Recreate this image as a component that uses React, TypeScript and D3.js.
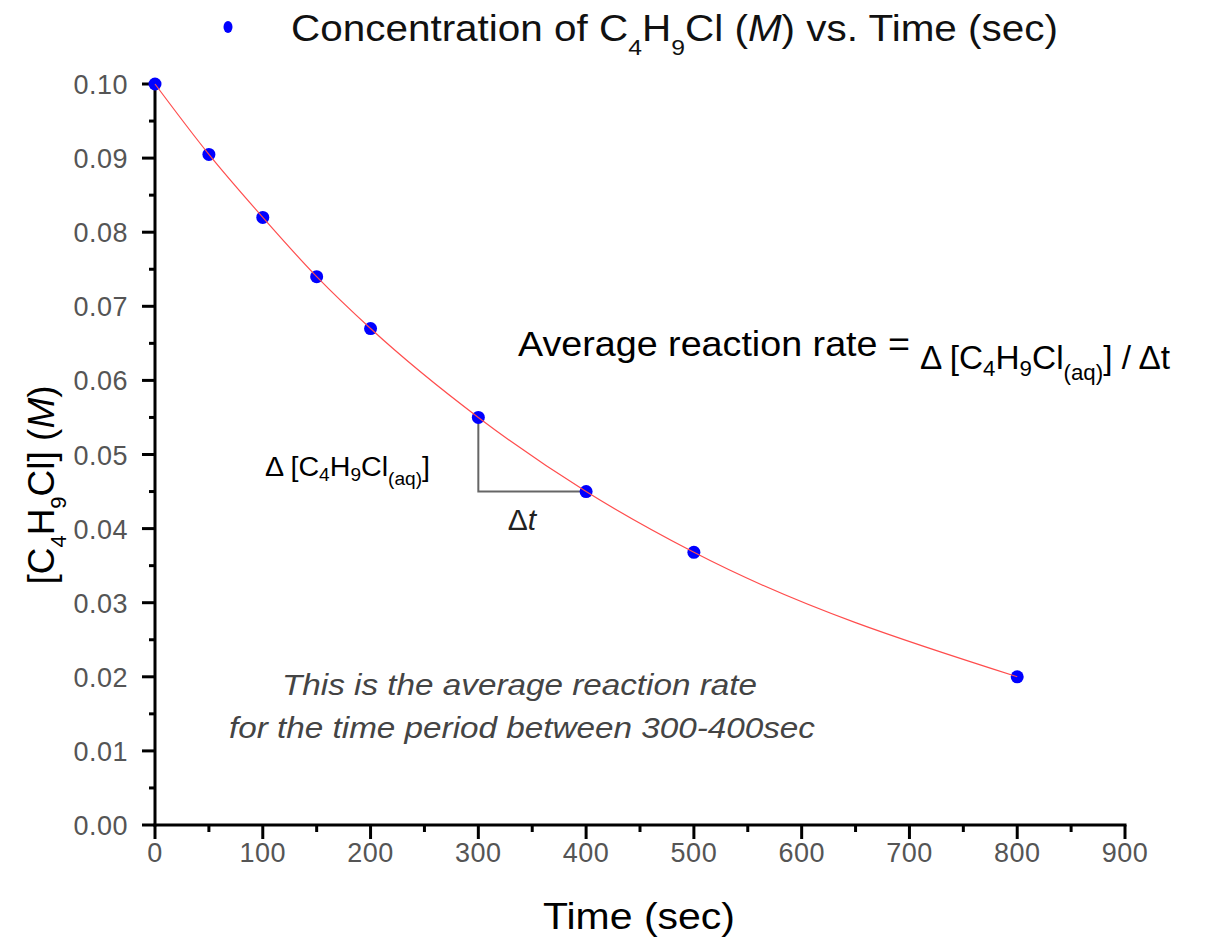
import React from "react";
import * as d3 from "d3";

const times = [0, 50, 100, 150, 200, 300, 400, 500, 800];
const concentrations = [0.1, 0.0905, 0.082, 0.074, 0.067, 0.055, 0.045, 0.0368, 0.02];
const xTicks = [0, 100, 200, 300, 400, 500, 600, 700, 800, 900];
const yTicks = [0, 0.01, 0.02, 0.03, 0.04, 0.05, 0.06, 0.07, 0.08, 0.09, 0.1];
const xMinor = [50, 150, 250, 350, 450, 550, 650, 750, 850];
const yMinor = [0.005, 0.015, 0.025, 0.035, 0.045, 0.055, 0.065, 0.075, 0.085, 0.095];
const deltaStart = 300;
const deltaEnd = 400;

const W = 1205;
const H = 941;

export default function App() {
  const x = d3.scaleLinear().domain([0, 900]).range([155, 1125]);
  const y = d3.scaleLinear().domain([0, 0.1]).range([825, 84]);
  const pts = times.map((t, i) => [t, concentrations[i]] as [number, number]);
  const line = d3
    .line<[number, number]>()
    .x((d) => x(d[0]))
    .y((d) => y(d[1]))
    .curve(d3.curveMonotoneX);
  const c0 = concentrations[times.indexOf(deltaStart)];
  const c1 = concentrations[times.indexOf(deltaEnd)];
  const sans = "Liberation Sans, Arial, sans-serif";
  const tickFont = { fontFamily: sans, fontSize: 27, fill: "#555", letterSpacing: 0.5 };

  return (
    <div style={{ position: "absolute", left: 0, top: 0 }}>
      <svg width={W} height={H} style={{ display: "block", background: "#fff" }}>
        {/* legend / title */}
        <ellipse cx={228} cy={27} rx={4.5} ry={6} fill="#0000ff" />
        <text x={291} y={41} fontFamily={sans} fontSize={36} fill="#111" textLength={767} lengthAdjust="spacingAndGlyphs">
          Concentration of C<tspan dy={14} fontSize={22}>4</tspan>
          <tspan dy={-14}>H</tspan>
          <tspan dy={14} fontSize={22}>9</tspan>
          <tspan dy={-14}>Cl (</tspan>
          <tspan fontStyle="italic">M</tspan>
          <tspan>) vs. Time (sec)</tspan>
        </text>

        {/* y axis */}
        <line x1={155} x2={155} y1={y(0.1) - 1} y2={y(0) + 1.5} stroke="#000" strokeWidth={3} />
        {yTicks.map((t) => (
          <g key={"y" + t}>
            <line x1={142} x2={155} y1={y(t)} y2={y(t)} stroke="#000" strokeWidth={3} />
            <text x={128} y={y(t) + 10} textAnchor="end" {...tickFont}>
              {t.toFixed(2)}
            </text>
          </g>
        ))}
        {yMinor.map((t) => (
          <line key={"ym" + t} x1={149} x2={155} y1={y(t)} y2={y(t)} stroke="#000" strokeWidth={3} />
        ))}

        {/* x axis */}
        <line x1={153.5} x2={x(900) + 1.5} y1={825} y2={825} stroke="#000" strokeWidth={3} />
        {xTicks.map((t) => (
          <g key={"x" + t}>
            <line x1={x(t)} x2={x(t)} y1={825} y2={839} stroke="#000" strokeWidth={3} />
            <text x={x(t)} y={862} textAnchor="middle" {...tickFont}>
              {t}
            </text>
          </g>
        ))}
        {xMinor.map((t) => (
          <line key={"xm" + t} x1={x(t)} x2={x(t)} y1={825} y2={832} stroke="#000" strokeWidth={3} />
        ))}

        {/* axis titles */}
        <text x={543} y={929} fontFamily={sans} fontSize={37} fill="#000" textLength={192} lengthAdjust="spacingAndGlyphs">
          Time (sec)
        </text>
        <text transform="translate(54,485) rotate(-90)" textAnchor="middle" fontFamily={sans} fontSize={37} fill="#000">
          [C<tspan dy={12} fontSize={22}>4</tspan>
          <tspan dy={-12}>H</tspan>
          <tspan dy={12} fontSize={22}>9</tspan>
          <tspan dy={-12}>Cl] (</tspan>
          <tspan fontStyle="italic">M</tspan>
          <tspan>)</tspan>
        </text>

        {/* delta triangle */}
        <path
          d={`M${x(deltaStart)},${y(c0)} L${x(deltaStart)},${y(c1)} L${x(deltaEnd)},${y(c1)}`}
          fill="none"
          stroke="#666"
          strokeWidth={2}
        />
        <text x={522} y={530} textAnchor="middle" fontFamily={sans} fontSize={30} fill="#222">
          Δ<tspan fontStyle="italic">t</tspan>
        </text>

        {/* markers */}
        {pts.map((d, i) => (
          <circle key={i} cx={x(d[0])} cy={y(d[1])} r={6.5} fill="#0000ff" />
        ))}
        <path d={line(pts) || ""} fill="none" stroke="#ff4d4d" strokeWidth={1.2} />

        {/* annotations */}
        <text x={265} y={476} fontFamily={sans} fontSize={27} fill="#000" textLength={165} lengthAdjust="spacingAndGlyphs">
          Δ [C<tspan dy={5} fontSize={18}>4</tspan>
          <tspan dy={-5}>H</tspan>
          <tspan dy={5} fontSize={18}>9</tspan>
          <tspan dy={-5}>Cl</tspan>
          <tspan dy={9} fontSize={18}>(aq)</tspan>
          <tspan dy={-9}>]</tspan>
        </text>

        <text x={518} y={356} fontFamily={sans} fontSize={35} fill="#000" textLength={392} lengthAdjust="spacingAndGlyphs">
          Average reaction rate =
        </text>
        <text x={920} y={369} fontFamily={sans} fontSize={33} fill="#000" textLength={250} lengthAdjust="spacingAndGlyphs">
          Δ [C<tspan dy={7} fontSize={22}>4</tspan>
          <tspan dy={-7}>H</tspan>
          <tspan dy={7} fontSize={22}>9</tspan>
          <tspan dy={-7}>Cl</tspan>
          <tspan dy={11} fontSize={22}>(aq)</tspan>
          <tspan dy={-11}>] / Δt</tspan>
        </text>

        <text x={282} y={695} fontFamily={sans} fontSize={30} fontStyle="italic" fill="#444" textLength={475} lengthAdjust="spacingAndGlyphs">
          This is the average reaction rate
        </text>
        <text x={229} y={738} fontFamily={sans} fontSize={30} fontStyle="italic" fill="#444" textLength={586} lengthAdjust="spacingAndGlyphs">
          for the time period between 300-400sec
        </text>
      </svg>
    </div>
  );
}
